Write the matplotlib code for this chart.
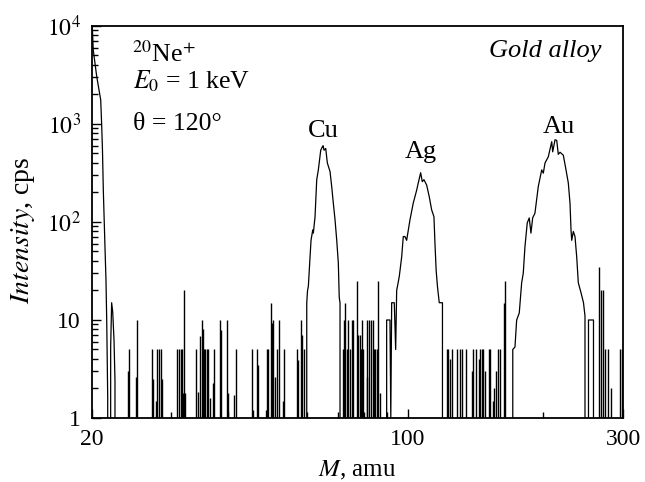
import matplotlib
matplotlib.use('Agg')
import matplotlib.pyplot as plt
from matplotlib.ticker import FixedLocator, FixedFormatter, NullFormatter, LogLocator

plt.rcParams['font.family'] = 'serif'
plt.rcParams['font.serif'] = ['Liberation Serif', 'DejaVu Serif']
plt.rcParams['mathtext.fontset'] = 'stix'

# spectrum profile: Ne scattering tail and the Cu, Ag, Au peaks (M in amu, cps)
mass = [20.00, 20.03, 20.13, 20.49, 20.91, 21.01, 21.10, 21.19, 21.37, 21.48, 21.56, 21.67, 21.73,
        21.90, 22.00, 22.11, 22.23, 22.38, 22.49, 22.58,
        59.43, 59.80, 60.04, 60.29, 60.81, 61.12, 61.65, 61.84, 62.38, 62.92, 63.44, 64.22, 64.75,
        65.00, 65.31, 65.88, 66.42, 67.34, 67.92, 68.48, 69.08, 69.68, 70.25, 70.57, 70.86, 71.15,
        89.56, 89.88, 91.41, 91.80, 92.21, 93.44, 94.11, 94.59, 95.85, 97.03, 97.83, 98.68, 99.53,
        101.22, 102.94, 104.74, 105.60, 106.90, 107.78, 108.72, 110.22, 111.69, 113.06, 114.40,
        114.98, 115.69, 116.46, 117.53, 119.47, 120.08,
        170.29, 170.99, 172.92, 174.42, 176.75, 178.92, 180.39, 181.96, 184.10, 185.99, 187.61,
        189.24, 191.47, 194.72, 198.18, 199.81, 201.55, 204.97, 208.56, 209.62, 212.10, 213.95,
        215.69, 217.57, 221.27, 224.33, 226.98, 228.96, 230.13, 230.95, 232.84, 234.86, 236.91,
        238.84, 242.15, 245.25, 247.13, 248.40, 250.90, 251.58, 258.07, 259.39]
counts = [13000, 10000, 5700, 3050, 1760, 1000, 540, 212, 56, 25.6, 10, 1.65, 0,
          0, 5.3, 15, 12.1, 6.2, 2.4, 0,
          0, 15, 20, 22, 44, 65, 83, 77, 113, 270, 340, 540, 584,
          600, 540, 562, 400, 327, 229, 155, 105, 65, 38, 17, 15, 0,
          0, 10, 10, 1, 15, 15, 5, 20, 27.7, 44, 71, 71, 65,
          105, 156, 211, 250, 318, 258, 270, 238, 181, 133, 113,
          61, 32, 22, 15, 15, 0,
          0, 5, 5.3, 10, 11.8, 24, 30, 56, 98, 110, 77,
          110, 123, 229, 340, 315, 400, 463, 660, 520, 690, 680,
          490, 515, 480, 340, 250, 155, 83, 65, 80, 71, 44,
          24, 19, 15, 11, 0, 0, 10, 10, 0]

# single-channel noise counts
spike_mass = [24.00, 24.12, 25.07, 25.20, 27.16, 27.30, 27.77, 27.91, 28.11, 28.48,
              28.59, 30.81, 31.13, 31.45, 31.66, 31.77, 31.98, 32.19, 34.08, 34.29,
              34.69, 35.00, 35.23, 35.47, 35.59, 35.96, 36.23, 36.51, 37.13, 37.32,
              38.42, 38.62, 39.76, 39.96, 41.33, 41.62, 45.30, 45.53, 46.47, 46.75,
              48.50, 48.75, 49.15, 49.76, 50.01, 50.42, 50.86, 51.30, 51.78, 53.06,
              53.33, 56.89, 57.27, 58.07, 58.51, 58.87,
              71.84, 72.30, 72.78, 73.30, 73.90, 74.55, 75.20, 75.81, 77.14, 77.77,
              78.45, 78.85, 79.13, 79.78, 81.17, 81.50, 82.25, 82.85, 83.69, 84.25,
              84.68, 85.42, 85.90, 86.87,
              122.06, 123.06, 124.45, 125.40, 128.44, 130.62, 131.76, 134.47, 139.08, 139.93,
              141.73, 143.70, 144.65, 145.91, 147.26, 148.39, 151.45, 152.45, 154.81, 155.36,
              156.95, 158.80, 160.18, 163.49, 164.74,
              265.96, 268.10, 271.54, 273.62, 278.55, 282.12, 295.81, 298.08]
spike_counts = [3, 5, 2.6, 10, 5, 2.5, 1.5, 5, 5, 5,
                2.5, 5, 5, 5, 5, 1.8, 20, 1.8, 5, 1.85,
                6.8, 10, 8, 5, 5, 5, 5, 1.6, 2.3, 5,
                10, 7.9, 10, 1.8, 1.7, 5, 5, 1.2, 5, 3.5,
                1.2, 5, 5, 15, 9.3, 10, 2.6, 5, 10, 1.5,
                5, 5, 3.9, 10, 7, 5,
                5, 10, 15, 5, 10, 5, 10, 10, 25, 7,
                7, 5, 10, 5, 2.6, 10, 10, 10, 10, 5,
                5, 5, 25, 1.8,
                5, 5, 4, 5, 5, 5, 5, 5, 3, 5,
                5, 4, 5, 5, 5, 3, 5, 5, 1.5, 2,
                3, 5, 5, 15, 25,
                35, 20, 20, 5, 5, 2, 5, 5]

peak_names = ['Cu', 'Ag', 'Au']
peak_mass = [65.0, 107.1, 216.5]
peak_label_y = [740, 450, 800]

x_ticks = [20, 100, 300]
x_labels = ['20', '100', '300']
x_minor = [30, 40, 50, 60, 70, 80, 90, 200]
y_ticks = [1, 10, 100, 1000, 10000]
y_labels = ['1', '10', '$10^2$', '$10^3$', '$10^4$']

fig = plt.figure(figsize=(6.45, 4.82), dpi=100)
ax = fig.add_axes([0.1426, 0.1328, 0.8233, 0.8133])

ax.plot(mass, counts, color='black', lw=0.9)
ax.vlines(spike_mass, 0.1, spike_counts, color='black', lw=1.0)

ax.set_xscale('log')
ax.set_yscale('log')
ax.set_xlim(20, 300)
ax.set_ylim(1, 1e4)

ax.xaxis.set_major_locator(FixedLocator(x_ticks))
ax.xaxis.set_major_formatter(FixedFormatter(x_labels))
ax.xaxis.set_minor_locator(FixedLocator(x_minor))
ax.xaxis.set_minor_formatter(NullFormatter())
ax.yaxis.set_major_locator(FixedLocator(y_ticks))
ax.yaxis.set_major_formatter(FixedFormatter(y_labels))
ax.yaxis.set_minor_locator(LogLocator(subs=range(2, 10)))
ax.yaxis.set_minor_formatter(NullFormatter())

ax.tick_params(which='both', direction='in', top=False, right=False, labelsize=17, width=1)
ax.tick_params(which='major', length=6.5, pad=8)
ax.tick_params(which='minor', length=4)
for s in ax.spines.values():
    s.set_linewidth(1.3)

ax.set_xlabel(r'$M$, amu', fontsize=18, labelpad=6)
ax.set_ylabel(r'$\mathit{Intensity}$, cps', fontsize=20)
ax.yaxis.set_label_coords(-0.104, 0.48)

ax.text(0.0748, 0.909, r'$^{20}$Ne$^{+}$', transform=ax.transAxes, fontsize=18.5, va='baseline')
ax.text(0.0767, 0.841, r'$E_0$ = 1 keV', transform=ax.transAxes, fontsize=18.5, va='baseline')
ax.text(0.0767, 0.7347, 'θ = 120°', transform=ax.transAxes, fontsize=18.5, va='baseline')
ax.text(0.96, 0.9217, 'Gold alloy', transform=ax.transAxes, fontsize=19, style='italic',
        ha='right', va='baseline')

for name, m, y in zip(peak_names, peak_mass, peak_label_y):
    ax.text(m, y, name, fontsize=19, ha='center', va='baseline')

fig.savefig('out.png', dpi=100)
